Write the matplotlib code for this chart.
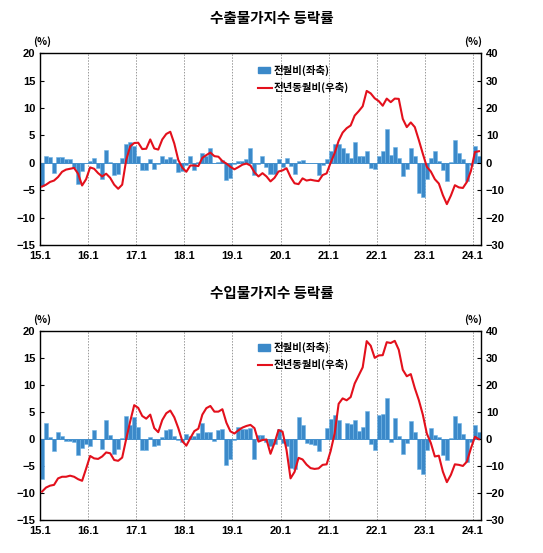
import matplotlib
matplotlib.use("Agg")
import matplotlib.pyplot as plt
import numpy as np

plt.rcParams['font.family'] = ['Noto Sans CJK KR', 'DejaVu Sans']

# x tick labels (year.month, one every 12 months from 2015.1)
tick_labels = ["15.1", "16.1", "17.1", "18.1", "19.1", "20.1", "21.1", "22.1", "23.1", "24.1"]

# export prices, month-on-month % (left axis), 2015.1 - 2024.2
ex_mom = [
    -4.3, 1.3, 1.0, -1.9, 1.0, 1.1, 0.6, 0.6, -1.0, -3.8, -1.5, 0.0,
    0.3, 0.8, -1.0, -3.0, 2.4, 0.1, -2.2, -2.0, 0.8, 3.4, 3.7, 3.0,
    1.3, -1.4, -1.3, 0.7, -1.2, -0.3, 1.2, 0.6, 1.1, 0.6, -1.6, -1.5,
    -0.5, 1.2, -1.4, 0.2, 1.7, 1.2, 2.6, -0.1, 0.2, 0.5, -3.1, -2.8,
    -0.3, 0.4, 0.3, 0.7, 2.6, -2.3, -0.3, 1.3, -0.8, -2.1, -2.1, 0.7,
    -0.8, 0.8, -0.6, -2.1, 0.4, 0.5, -0.1, -0.1, -0.1, -2.3, -0.5, 0.6,
    2.2, 3.5, 3.5, 2.6, 1.8, 0.8, 3.8, 1.2, 1.2, 2.2, -1.0, -1.2,
    1.2, 2.1, 6.2, 1.4, 2.9, 0.9, -2.4, -1.2, 2.7, 1.2, -5.5, -6.2,
    -3.0, 0.8, 2.1, 0.4, -1.4, -3.3, 0.1, 4.2, 1.8, 0.6, -3.4, -0.5,
    3.1, 1.3,
]

# export prices, year-on-year % (right axis)
ex_yoy = [
    -8.7, -8.0, -7.0, -6.5, -5.2, -3.3, -2.5, -2.2, -1.9, -4.0, -8.3, -6.0,
    -1.7, -2.2, -3.8, -5.0, -4.0, -5.5, -8.0, -9.5, -8.0, 1.0, 6.0, 7.2,
    7.3, 5.0, 5.1, 8.5, 5.2, 4.8, 8.5, 10.5, 11.3, 7.0, 1.0, -1.8,
    -3.3, -1.0, -1.0, -1.2, 1.8, 2.8, 3.7, 2.4, 2.2, 0.6, -0.3, -1.5,
    -2.4, -1.6, -0.7, -0.3, -1.0, -3.5, -5.0, -3.8, -5.0, -6.8, -5.5, -3.2,
    -2.8, -2.0, -5.2, -7.5, -7.8, -5.7, -6.5, -6.2, -6.5, -6.7, -4.5, -3.9,
    0.0, 3.5, 8.0, 11.0, 12.6, 13.6, 17.2, 18.8, 20.6, 26.2, 25.3, 23.5,
    22.5, 20.8, 23.4, 22.1, 23.4, 23.3, 16.0, 13.0, 14.7, 13.0, 8.3, 3.3,
    -1.5, -3.2, -6.0, -7.6, -11.8, -15.1, -12.0, -8.2, -9.0, -9.2, -7.0, -3.0,
    3.9, 4.2,
]

# import prices, month-on-month % (left axis)
im_mom = [
    -7.5, 2.9, 0.3, -2.3, 1.3, 0.6, -0.3, -0.3, -0.5, -3.0, -1.7, -1.0,
    -1.4, 1.6, 0.0, -1.8, 3.5, 0.8, -2.8, -1.8, 0.1, 4.3, 2.5, 4.1,
    2.2, -2.1, -2.1, 0.4, -1.4, -1.2, 0.4, 1.6, 1.8, 0.6, -0.2, -0.6,
    0.9, 0.5, 0.6, 1.1, 3.0, 1.3, 1.3, -0.3, 1.7, 1.8, -4.9, -3.7,
    -0.2, 2.2, 1.8, 1.8, 2.0, -3.7, 0.8, 0.7, -0.5, -1.4, -1.0, 1.8,
    -0.8, -1.4, -5.4, -5.6, 4.0, 2.5, -0.8, -1.0, -1.1, -2.2, 0.0, 2.1,
    3.7, 4.4, 3.5, -0.1, 2.9, 2.7, 3.5, 1.4, 2.3, 5.2, -0.9, -2.0,
    4.4, 4.6, 7.6, -0.6, 3.8, 0.5, -2.7, -0.8, 3.4, 1.2, -5.5, -6.4,
    -2.1, 2.0, 0.7, 0.4, -3.0, -3.9, 0.2, 4.2, 2.9, 0.9, -4.3, -0.5,
    2.6, 1.3,
]

# import prices, year-on-year % (right axis)
im_yoy = [
    -19.5, -18.0, -17.3, -17.0, -14.6, -14.0, -14.0, -13.6, -14.0, -14.9, -15.5, -11.0,
    -6.3, -7.2, -7.4, -6.5, -5.0, -5.3, -7.8, -8.1, -6.9, 0.0, 6.5, 12.5,
    11.5, 8.5, 7.5, 9.0, 4.0, 2.5, 7.0, 9.5, 10.5, 8.0, 4.0, -0.8,
    -2.5, 0.3, 2.9, 3.8, 9.0, 11.4, 12.2, 10.1, 10.1, 11.0, 6.0, 2.8,
    2.0, 3.2, 4.2, 4.8, 5.2, 4.0, -1.0, -0.4, -0.2, -5.5, -1.5, 3.3,
    2.7, -4.1, -14.6, -12.2, -7.0, -7.6, -9.5, -10.8, -11.1, -10.9, -9.6, -9.4,
    -4.5, 2.0, 13.0, 15.0, 14.3, 15.5, 20.5, 23.5, 26.5, 36.2, 34.5, 30.0,
    30.9, 31.0, 35.8, 35.5, 36.3, 33.0, 25.6, 23.2, 24.0, 18.8, 14.4, 9.0,
    2.0, -1.5, -6.5, -6.2, -12.1, -16.0, -13.3, -9.4, -9.6, -10.0, -8.4, -3.5,
    0.8, -0.1,
]

BLUE = "#3b89c9"
RED = "#e3101c"


def draw_panel(fig, rect, title, title_y, mom, yoy):
    ax = fig.add_axes(rect)
    x = np.arange(len(mom)) + 0.5
    ax.bar(x, mom, width=1.0, color=BLUE, edgecolor="#6fb3e6", linewidth=0.4, zorder=2)
    ax.axhline(0, color=BLUE, linewidth=0.6, zorder=2)
    ax.set_xlim(0, len(mom))
    ax.set_ylim(-15, 20)
    ax.set_yticks(range(-15, 21, 5))
    ax.set_xticks(range(0, len(mom), 12))
    ax.set_xticklabels(tick_labels)
    for t in range(12, len(mom), 12):
        ax.axvline(t, color="#999999", linestyle=(0, (1.5, 1.5)), linewidth=0.7, zorder=1)
    ax.tick_params(axis="both", labelsize=8, length=3, direction="in", width=0.8)
    ax.tick_params(axis="x", length=0, pad=4)
    for lab in ax.get_xticklabels() + ax.get_yticklabels():
        lab.set_fontweight("bold")
        lab.set_family(["Liberation Sans", "DejaVu Sans"])
    for s in ax.spines.values():
        s.set_linewidth(1.0)
        s.set_color("#333333")

    ax2 = ax.twinx()
    ax2.plot(x, yoy, color=RED, linewidth=1.5, zorder=3)
    ax2.set_ylim(-30, 40)
    ax2.set_yticks(range(-30, 41, 10))
    ax2.tick_params(axis="y", labelsize=8, length=3, direction="in", width=0.8)
    for lab in ax2.get_yticklabels():
        lab.set_fontweight("bold")
        lab.set_family(["Liberation Sans", "DejaVu Sans"])

    ax.text(0.005, 1.03, "(%)", transform=ax.transAxes, fontsize=7.5,
            fontweight="bold", ha="center", va="bottom")
    ax.text(1.003, 1.03, "(%)", transform=ax.transAxes, fontsize=7.5,
            fontweight="bold", ha="right", va="bottom")

    # legend
    lx = 0.495
    ax.add_patch(plt.Rectangle((lx, 0.895), 0.027, 0.035, transform=ax.transAxes,
                               color=BLUE, clip_on=False, zorder=5))
    ax.text(lx + 0.035, 0.912, "전월비(좌축)", transform=ax.transAxes,
            fontsize=7.5, fontweight="bold", va="center")
    ax.plot([lx, lx + 0.03], [0.82, 0.82], transform=ax.transAxes, color=RED,
            linewidth=1.5, zorder=5)
    ax.text(lx + 0.035, 0.82, "전년동월비(우축)", transform=ax.transAxes,
            fontsize=7.5, fontweight="bold", va="center")

    fig.text(0.5, title_y, title, ha="center", va="center", fontsize=10.5,
             fontweight="bold")
    return ax


fig = plt.figure(figsize=(5.43, 5.53), dpi=100)
draw_panel(fig, [0.0737, 0.557, 0.812, 0.347], "수출물가지수 등락률", 0.967, ex_mom, ex_yoy)
draw_panel(fig, [0.0737, 0.0597, 0.812, 0.342], "수입물가지수 등락률", 0.471, im_mom, im_yoy)

fig.savefig("out.png", dpi=100)
